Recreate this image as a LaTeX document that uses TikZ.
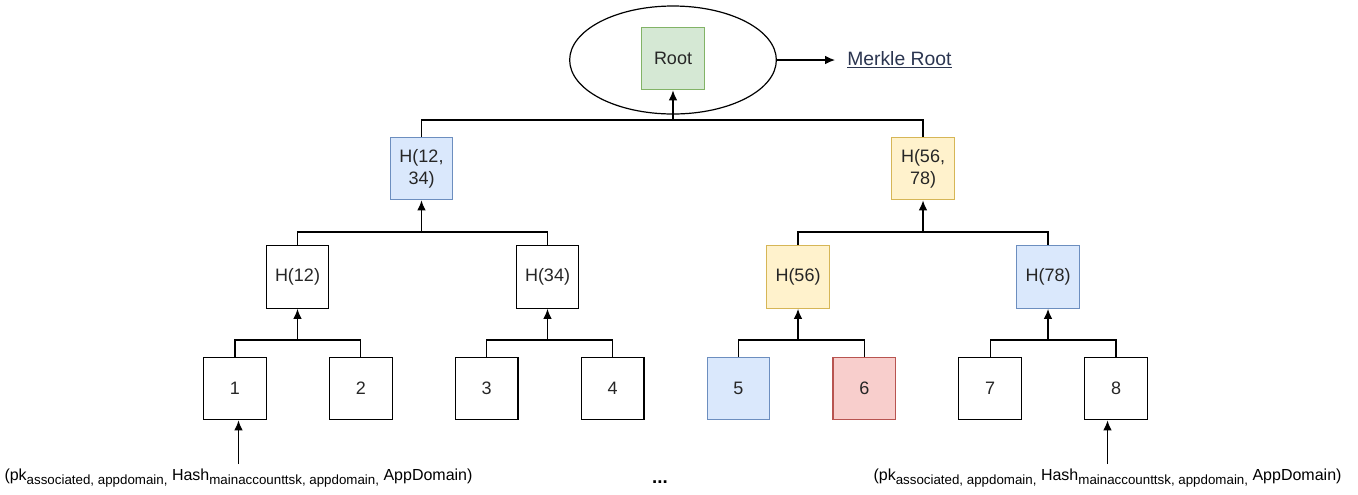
\documentclass[tikz,border=0pt]{standalone}
\usepackage{fontspec}
\setmainfont{Liberation Sans}
\usepackage{tikz}
\usetikzlibrary{positioning,shapes.geometric,arrows.meta}
\definecolor{rootfill}{HTML}{D5E8D4}
\definecolor{rootline}{HTML}{82B366}
\definecolor{bluefill}{HTML}{DAE8FC}
\definecolor{blueline}{HTML}{6C8EBF}
\definecolor{yellowfill}{HTML}{FFF2CC}
\definecolor{yellowline}{HTML}{D6B656}
\definecolor{redfill}{HTML}{F8CECC}
\definecolor{redline}{HTML}{B85450}
\definecolor{linkcol}{HTML}{2B3550}
\newcommand{\subtxt}[1]{\raisebox{-0.45ex}{\fontsize{10}{10}\selectfont #1}}

\begin{document}
\begin{tikzpicture}[
    x=0.75pt, y=-0.75pt,
    >={Latex[length=7.5pt,width=6.5pt]},
    link/.style={draw, line width=0.9pt},
    rootbox/.style={fill=rootfill, draw=rootline},
    bluebox/.style={fill=bluefill, draw=blueline},
    yellowbox/.style={fill=yellowfill, draw=yellowline},
    redbox/.style={fill=redfill, draw=redline},
    hash/.style={   draw,
                    line width=0.9pt,
                    align=center,
                    node distance=46.5pt,
                    minimum size=47pt,
                    inner sep=1pt,
                    text=black!85,
                    font=\fontsize{13.5}{16.5}\selectfont}]

    \useasboundingbox (0,0) rectangle (1358,494);

    % root and its ring
    \node[draw, ellipse, line width=0.9pt, minimum width=155pt, minimum height=81pt] (rootring) at (673,60) {};
    \node[hash, rootbox] (root) at (673,58.5) {Root};
    \node[anchor=west, inner xsep=9pt, text=linkcol, font=\fontsize{14.5}{16}\selectfont] (merkle) at (835,60) {\underline{Merkle Root}};
    \draw[link, ->] (rootring) -- (merkle);

    % second level
    \node[hash, bluebox] (h1234) at (421.5,168.5) {H(12,\\34)};
    \node[hash, yellowbox] (h5678) at (923,168.5) {H(56,\\78)};

    % third level
    \node[hash] (h12) at (297.5,277) {H(12)};
    \node[hash] (h34) at (547.5,277) {H(34)};
    \node[hash, yellowbox] (h56) at (798,277) {H(56)};
    \node[hash, bluebox] (h78) at (1048,277) {H(78)};

    % leaves
    \node[hash] (l1) at (235,388.5) {1};
    \node[hash, right=of l1] (l2) {2};
    \node[hash, right=of l2] (l3) {3};
    \node[hash, right=of l3] (l4) {4};
    \node[hash, bluebox, right=of l4] (l5) {5};
    \node[hash, redbox, right=of l5] (l6) {6};
    \node[hash, right=of l6] (l7) {7};
    \node[hash, right=of l7] (l8) {8};

    % joints
    \coordinate (jroot) at (673,120);
    \coordinate (j1234) at (421.5,232);
    \coordinate (j5678) at (923,232);
    \coordinate (j12) at (297.5,340);
    \coordinate (j34) at (547.5,340);
    \coordinate (j56) at (798,340);
    \coordinate (j78) at (1048,340);

    \draw[link] (h1234) |- (jroot) -| (h5678);
    \draw[link, ->] (jroot) -- (root);

    \draw[link] (h12) |- (j1234) -| (h34);
    \draw[link, ->] (j1234) -- (h1234);
    \draw[link] (h56) |- (j5678) -| (h78);
    \draw[link, ->] (j5678) -- (h5678);

    \draw[link] (l1) |- (j12) -| (l2);
    \draw[link, ->] (j12) -- (h12);
    \draw[link] (l3) |- (j34) -| (l4);
    \draw[link, ->] (j34) -- (h34);
    \draw[link] (l5) |- (j56) -| (l6);
    \draw[link, ->] (j56) -- (h56);
    \draw[link] (l7) |- (j78) -| (l8);
    \draw[link, ->] (j78) -- (h78);

    % inputs
    \node[font=\fontsize{12}{14}\selectfont] (leftkey) at (238.5,478) {(pk\subtxt{associated, appdomain,} Hash\subtxt{mainaccounttsk, appdomain,} AppDomain)};
    \node[font=\fontsize{12}{14}\selectfont] (rightkey) at (1107.5,478) {(pk\subtxt{associated, appdomain,} Hash\subtxt{mainaccounttsk, appdomain,} AppDomain)};
    \node[font=\fontsize{14}{14}\selectfont\bfseries] (dots) at (660,482) {...};

    \draw[link, ->] (leftkey.north) -- (leftkey.north |- l1.south);
    \draw[link, ->] (rightkey.north) -- (rightkey.north |- l8.south);

\end{tikzpicture}
\end{document}
